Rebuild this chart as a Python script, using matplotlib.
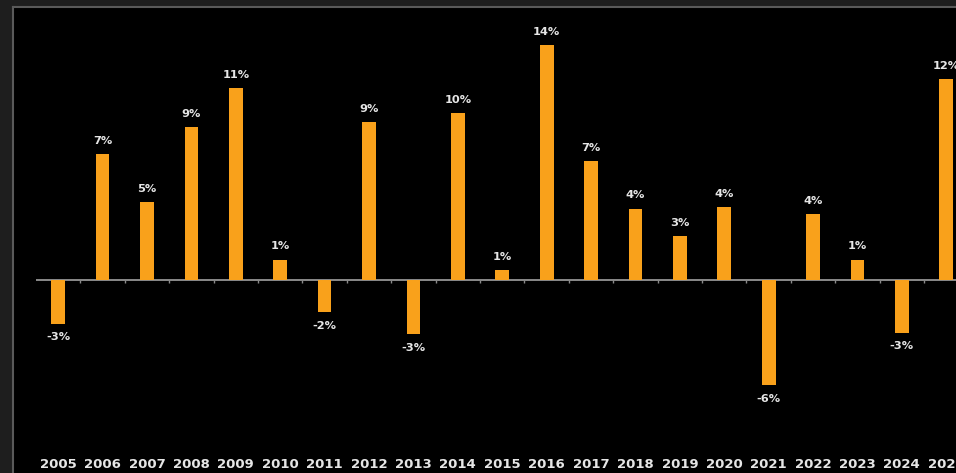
import numpy as np
import matplotlib.pyplot as plt
from matplotlib.patches import Rectangle
from matplotlib.lines import Line2D

years = [str(y) for y in range(2005, 2026)]
returns = [-2.6, 7.4, 4.6, 9.0, 11.3, 1.2, -1.9, 9.3, -3.2, 9.8, 0.6,
           13.8, 7.0, 4.2, 2.6, 4.3, -6.2, 3.9, 1.2, -3.1, 11.8]

W, H = 956, 473
fig = plt.figure(figsize=(W / 100, H / 100), dpi=100, facecolor='#1e1e1e')

# black panel with the light frame on top and left
fig.patches.append(Rectangle((13 / W, 0), 1, (H - 8) / H, transform=fig.transFigure,
                             facecolor='black', edgecolor='none', zorder=-5))
fig.lines.append(Line2D([12.5 / W, 1], [1 - 7.5 / H, 1 - 7.5 / H], transform=fig.transFigure,
                        color='#5a5a5a', lw=1.5, zorder=-4))
fig.lines.append(Line2D([12.5 / W, 12.5 / W], [0, 1 - 7.5 / H], transform=fig.transFigure,
                        color='#5a5a5a', lw=1.5, zorder=-4))

ax = fig.add_axes([36 / W, (H - 455) / H, 1 - 36 / W, (455 - 9) / H])
ax.set_facecolor('none')
ax.set_zorder(1)

x = np.arange(len(years))
ax.bar(x, returns, width=0.31, color='#f9a11b', zorder=2)

ax.axhline(0, color='#8a8a8a', lw=1.4, zorder=1)
ax.vlines(x[:-1] + 0.5, -0.2, 0, color='#8a8a8a', lw=1, zorder=1)

for xi, v in zip(x, returns):
    off = 9.5 if v >= 0 else -9.5
    ax.annotate(f'{v:.0f}%', (xi, v), xytext=(0, off), textcoords='offset points',
                ha='center', va='center', fontsize=8.2, fontweight='bold', color='#e6e6e6')

ax.set_xlim(-0.5, 20.22)
ax.set_ylim(-10.29, 15.94)
ax.set_yticks([])
ax.set_xticks(x)
ax.set_xticklabels(years, fontsize=9.5, fontweight='bold', color='#e6e6e6')
ax.tick_params(axis='x', length=0, pad=2.5)
for s in ax.spines.values():
    s.set_visible(False)

fig.savefig('out.png', dpi=100, facecolor=fig.get_facecolor())
